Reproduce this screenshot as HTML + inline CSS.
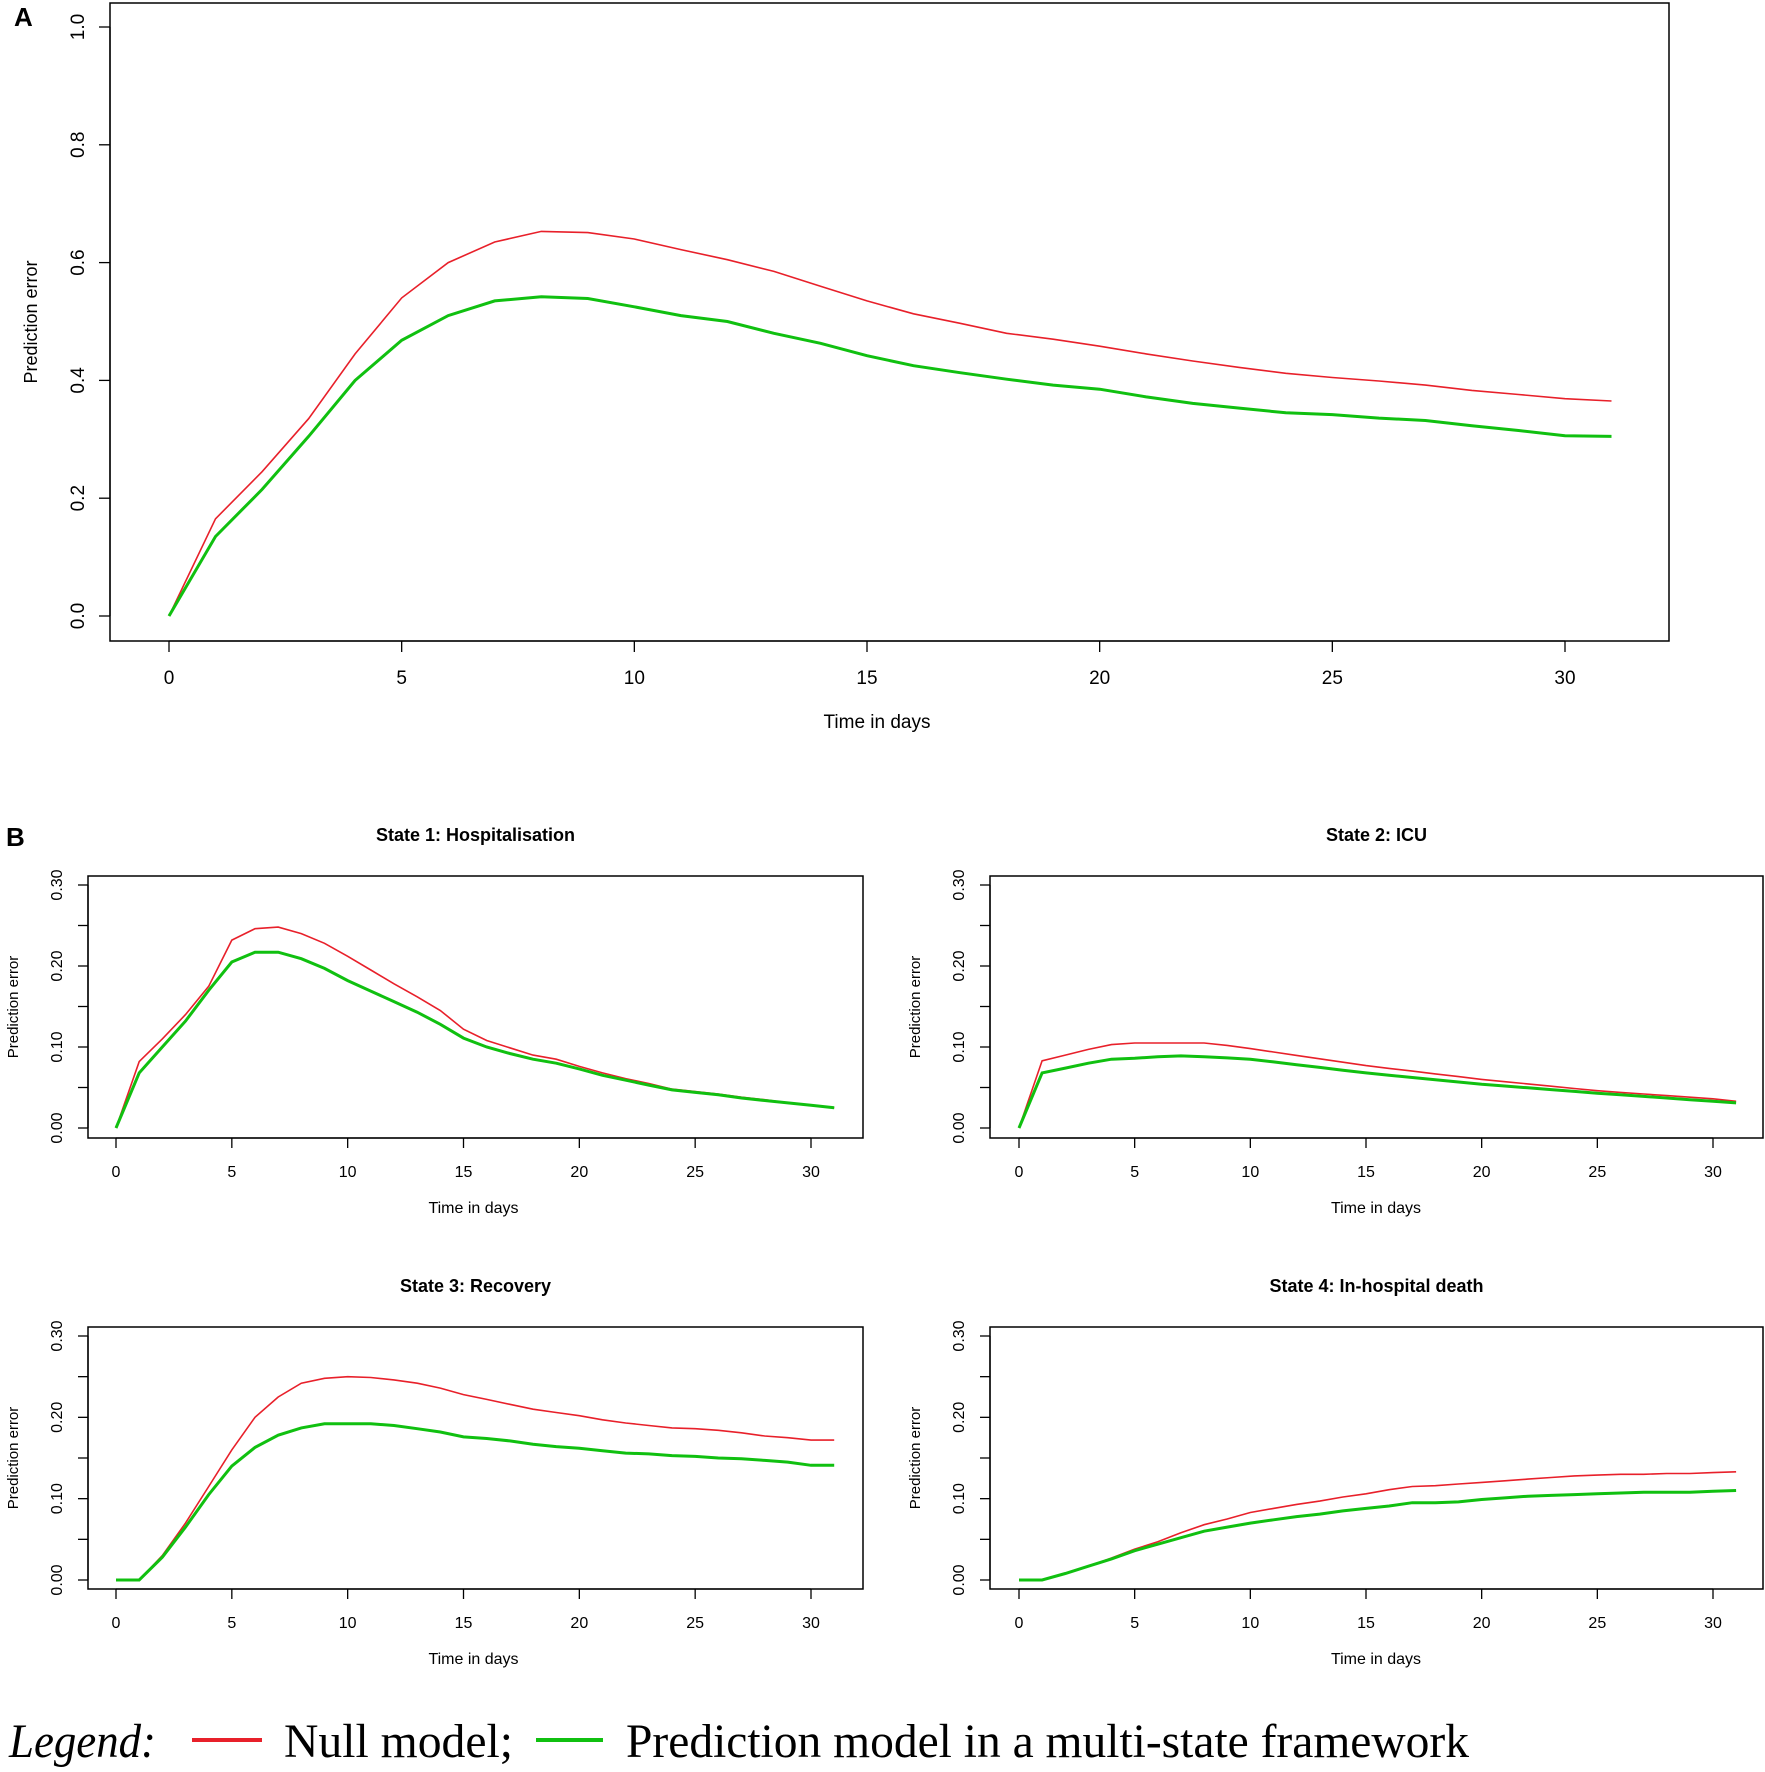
<!DOCTYPE html>
<html><head><meta charset="utf-8"><style>
html,body{margin:0;padding:0;background:#fff;}
svg{display:block;}
text{font-family:"Liberation Sans",sans-serif;fill:#000;}
</style></head><body>
<svg id="s" width="1765" height="1772" xmlns="http://www.w3.org/2000/svg"></svg>
<script>
const s=document.getElementById('s');let h='';
function plot(o){
 const X=v=>o.x0+(o.x30-o.x0)*v/30, Y=v=>o.y0+(o.ytop-o.y0)*v/o.ymax;
 h+=`<rect x="${o.l}" y="${o.t}" width="${o.r-o.l}" height="${o.b-o.t}" fill="none" stroke="#000" stroke-width="1.5"/>`;
 for(let v=0;v<=30;v+=5){const x=X(v);h+=`<line x1="${x}" y1="${o.b}" x2="${x}" y2="${o.b+o.tk}" stroke="#000" stroke-width="1.3"/><text x="${x}" y="${o.b+o.tl}" font-size="${o.fs}" text-anchor="middle">${v}</text>`;}
 h+=`<line x1="${X(0)}" y1="${o.b}" x2="${X(30)}" y2="${o.b}" stroke="#000" stroke-width="1.3"/>`;
 for(let i=0;i<o.yt.length;i++){const v=o.yt[i],y=Y(v);h+=`<line x1="${o.l}" y1="${y}" x2="${o.l-o.tk}" y2="${y}" stroke="#000" stroke-width="1.3"/>`;
  if(o.lab[i]!==null)h+=`<text transform="translate(${o.l-o.tk-o.yo},${y}) rotate(-90)" font-size="${o.fs}" text-anchor="middle">${o.lab[i]}</text>`;}
 h+=`<line x1="${o.l}" y1="${Y(0)}" x2="${o.l}" y2="${Y(o.yt[o.yt.length-1])}" stroke="#000" stroke-width="1.3"/>`;
 h+=`<text x="${(o.x0+o.x30)/2+10}" y="${o.xly}" font-size="${o.fs}" text-anchor="middle">Time in days</text>`;
 h+=`<text transform="translate(${o.yly},${(o.t+o.b)/2}) rotate(-90)" font-size="${o.fs-1}" text-anchor="middle">Prediction error</text>`;
 if(o.title)h+=`<text x="${(o.l+o.r)/2}" y="${o.ty}" font-size="${o.fs+2}" font-weight="bold" text-anchor="middle">${o.title}</text>`;
 const pl=(d,c,w)=>{h+=`<polyline fill="none" stroke="${c}" stroke-width="${w}" points="${d.map((v,i)=>X(i).toFixed(1)+','+Y(v).toFixed(1)).join(' ')}"/>`;};
 pl(o.red,'#e8202a',1.6);pl(o.green,'#10c010',3);
}
function interp(pts){const a=[];const k=Object.keys(pts).map(Number).sort((x,y)=>x-y);for(let i=0;i<=31;i++){let j=0;while(j<k.length-1&&k[j+1]<i)j++;const a0=k[j],a1=k[Math.min(j+1,k.length-1)];if(i<=a0){a.push(pts[a0]);continue;}if(i>=a1){a.push(pts[a1]);continue;}a.push(pts[a0]+(pts[a1]-pts[a0])*(i-a0)/(a1-a0));}return a;}
plot({l:110,r:1669,t:3,b:641,x0:169,x30:1565,y0:616,ytop:27,ymax:1,tk:11,tl:43,fs:19,xly:728,yly:37,yo:15,
 yt:[0,.2,.4,.6,.8,1],lab:['0.0','0.2','0.4','0.6','0.8','1.0'],
 red:[0,.165,.245,.335,.445,.54,.6,.635,.653,.651,.64,.622,.605,.585,.56,.535,.513,.497,.48,.47,.458,.445,.433,.422,.412,.405,.399,.392,.383,.376,.369,.365],
 green:[0,.135,.215,.305,.4,.468,.51,.535,.542,.539,.525,.51,.5,.48,.463,.442,.425,.413,.402,.392,.385,.372,.361,.353,.345,.342,.336,.332,.323,.315,.306,.305]});
const yt=[0,.05,.1,.15,.2,.25,.3],lab=['0.00',null,'0.10',null,'0.20',null,'0.30'];
function B(l,r,x0,x30,t,b,y0,yt3,ty,title,red,green){plot({l,r,t,b,x0,x30,y0,ytop:yt3,ymax:.3,tk:10,tl:39,fs:16,xly:b+75,yly:l-70,yo:16,ty,title,yt,lab,red,green});}
B(88,863,116,811,876,1138,1128,885,841,'State 1: Hospitalisation',
 [0,.082,.11,.14,.175,.232,.246,.248,.24,.228,.212,.195,.178,.162,.145,.122,.108,.099,.09,.085,.076,.068,.061,.055,.048,.045,.042,.038,.035,.031,.028,.025],
 [0,.068,.1,.132,.17,.205,.217,.217,.209,.197,.182,.169,.156,.143,.128,.111,.1,.092,.085,.08,.073,.065,.059,.053,.047,.044,.041,.037,.034,.031,.028,.025]);
B(990,1763,1019,1713,876,1138,1128,885,841,'State 2: ICU',
 interp({0:0,1:.083,2:.09,3:.097,4:.103,5:.105,8:.105,9:.102,10:.098,15:.077,20:.06,25:.046,30:.036,31:.033}),
 interp({0:0,1:.068,2:.074,3:.08,4:.085,5:.086,6:.088,7:.089,8:.088,10:.085,15:.068,20:.054,25:.043,31:.031}));
B(88,863,116,811,1327,1589,1580,1336,1292,'State 3: Recovery',
 [0,0,.03,.07,.115,.16,.2,.225,.242,.248,.25,.249,.246,.242,.236,.228,.222,.216,.21,.206,.202,.197,.193,.19,.187,.186,.184,.181,.177,.175,.172,.172],
 [0,0,.028,.065,.105,.14,.163,.178,.187,.192,.192,.192,.19,.186,.182,.176,.174,.171,.167,.164,.162,.159,.156,.155,.153,.152,.15,.149,.147,.145,.141,.141]);
B(990,1763,1019,1713,1327,1589,1580,1336,1292,'State 4: In-hospital death',
 [0,0,.008,.017,.027,.038,.047,.058,.068,.075,.083,.088,.093,.097,.102,.106,.111,.115,.116,.118,.12,.122,.124,.126,.128,.129,.13,.13,.131,.131,.132,.133],
 [0,0,.008,.017,.026,.036,.044,.052,.06,.065,.07,.074,.078,.081,.085,.088,.091,.095,.095,.096,.099,.101,.103,.104,.105,.106,.107,.108,.108,.108,.109,.11]);
h+=`<text x="14" y="26" font-size="26" font-weight="bold">A</text><text x="6" y="846" font-size="26" font-weight="bold">B</text>`;
const sf='font-family="Liberation Serif,serif" font-size="48"';
h+=`<text x="9" y="1757" ${sf} font-style="italic" textLength="147" lengthAdjust="spacingAndGlyphs" style="font-family:'Liberation Serif',serif">Legend:</text>`;
h+=`<line x1="192" y1="1740" x2="262" y2="1740" stroke="#e8202a" stroke-width="4"/>`;
h+=`<text x="284" y="1757" ${sf} textLength="229" lengthAdjust="spacingAndGlyphs" style="font-family:'Liberation Serif',serif">Null model;</text>`;
h+=`<line x1="536" y1="1740" x2="603" y2="1740" stroke="#10c010" stroke-width="4"/>`;
h+=`<text x="626" y="1757" ${sf} textLength="843" lengthAdjust="spacingAndGlyphs" style="font-family:'Liberation Serif',serif">Prediction model in a multi-state framework</text>`;
s.innerHTML=h;
</script>
</body></html>
